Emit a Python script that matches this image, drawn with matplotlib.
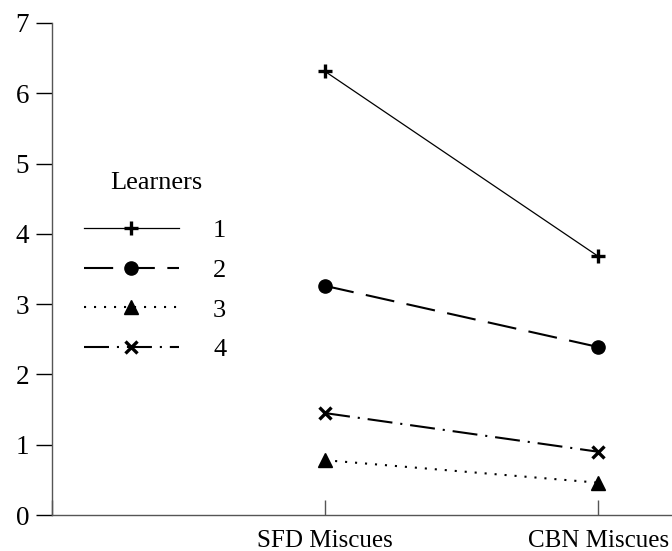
import matplotlib.pyplot as plt

# data
categories = ["SFD Miscues", "CBN Miscues"]
learners = ["1", "2", "3", "4"]
learner1 = [6.31, 3.68]
learner2 = [3.26, 2.39]
learner3 = [0.78, 0.46]
learner4 = [1.45, 0.90]

plt.rcParams["font.family"] = ["Liberation Serif", "DejaVu Serif"]
plt.rcParams["font.size"] = 18

fig = plt.figure(figsize=(6.72, 5.51), dpi=100)
ax = fig.add_axes([0.0774, 0.0653, 0.9226, 0.893])

x = [1, 2]
ax.plot(x, learner1, color="black", lw=0.9, ls="-", marker="+",
        ms=10.5, mew=2.4, label=learners[0])
ax.plot(x, learner2, color="black", lw=1.5, ls=(0, (14, 6)), marker="o",
        ms=9.5, label=learners[1])
ax.plot(x, learner3, color="black", lw=1.5, ls=(0, (1, 3.8)), marker="^",
        ms=10, label=learners[2])
ax.plot(x, learner4, color="black", lw=1.5, ls=(0, (12, 3.8, 1, 3.8)),
        marker="x", ms=8.5, mew=2.4, label=learners[3])

ax.set_xlim(0, 2.27)
ax.set_ylim(0, 7)
ax.set_xticks([0, 1, 2])
ax.set_xticklabels([""] + categories)
ax.set_yticks(range(8))

for side in ["top", "right"]:
    ax.spines[side].set_visible(False)
for side in ["left", "bottom"]:
    ax.spines[side].set_color("#555555")
    ax.spines[side].set_linewidth(1.0)

ax.tick_params(axis="x", direction="in", length=11, width=1.0,
               color="#555555", pad=11, labelsize=18)
ax.tick_params(axis="y", direction="out", length=11.5, width=1.0,
               color="black", pad=5, labelsize=19.5)

leg = ax.legend(frameon=False, loc="upper left",
                bbox_to_anchor=(0.013, 0.65), handlelength=3.6,
                labelspacing=0.61, handletextpad=1.3,
                fontsize=19)
ax.text(0.169, 0.675, "Learners", transform=ax.transAxes,
        ha="center", va="center", fontsize=19)

fig.savefig("out.png", dpi=100)
